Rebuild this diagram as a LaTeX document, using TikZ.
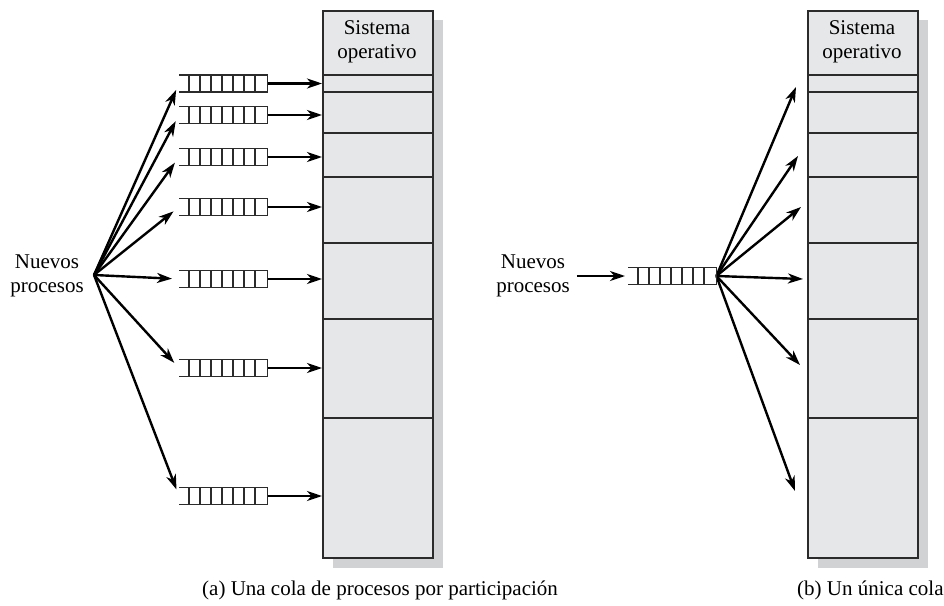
\documentclass[tikz,border=0pt]{standalone}
\usepackage{fontspec}
\setmainfont{Liberation Serif}
\usetikzlibrary{arrows.meta,calc}
\definecolor{memfill}{HTML}{E6E7E8}
\definecolor{memshadow}{HTML}{D1D2D4}
\definecolor{edge}{HTML}{2B2B2B}
\begin{document}
\begin{tikzpicture}[x=1pt,y=-1pt,
  lbl/.style={font=\fontsize{21}{24.5}\selectfont, align=center, inner sep=0pt},
  mem/.style={draw=edge, line width=1.5pt, fill=memfill, minimum width=110pt,
    minimum height=547pt, inner sep=0pt, anchor=north west},
  queue/.style={minimum width=88pt, minimum height=16.5pt, inner sep=0pt, anchor=west},
  qline/.style={draw=edge, line width=1.3pt},
  arr/.style={line width=2.4pt, -{Stealth[length=15pt,width=10pt,inset=4.5pt]}},
]
\useasboundingbox (0,0) rectangle (944,605);

% ---------- (a) one queue per partition ----------
\fill[memshadow] (333,20) rectangle (443,568);
\node[mem] (memA) at (322,10) {};
\foreach \y in {75,92,133,177,243,319,418}
  \draw[qline] (322,\y) -- (432,\y);
\node[lbl] (osA) at (377,42) {Sistema\\operativo};

\node[lbl] (newA) at (47,276) {Nuevos\\procesos};
\coordinate (fanA) at (94,275);

\foreach \n/\y in {1/83.5,2/115,3/157,4/207,5/279,6/368,7/496}{
  \node[queue] (qA\n) at (179,\y) {};
  \draw[arr] (qA\n.east) -- (qA\n.east -| memA.west);
  \draw[arr, shorten >=7pt] (fanA) -- (qA\n.west);
}

% ---------- (b) a single queue ----------
\fill[memshadow] (818,20) rectangle (928,568);
\node[mem] (memB) at (807,10) {};
\foreach \y in {75,92,133,177,243,319,418}
  \draw[qline] (807,\y) -- (917,\y);
\node[lbl] (osB) at (862,42) {Sistema\\operativo};

\node[lbl] (newB) at (533,276) {Nuevos\\procesos};
\node[queue] (qB) at (628,276) {};
\draw[arr, shorten <=7pt, shorten >=3pt] (newB.east |- qB.west) -- (qB.west);

\foreach \n/\x/\y in {1/796/87,3/798/156,4/801/207,5/803/279,6/800/365,7/795/491}{
  \coordinate (tB\n) at (\x,\y);
  \draw[arr] (qB.east) -- (tB\n);
}

% queue cells: open left end, seven closed slots on the right
\foreach \q in {qA1,qA2,qA3,qA4,qA5,qA6,qA7,qB}{
  \draw[qline] (\q.north west) -- (\q.north east) -- (\q.south east) -- (\q.south west);
  \foreach \i [evaluate=\i as \dx using 10+11*(\i-1)] in {1,...,7}
    \draw[qline] ([xshift=\dx pt]\q.north west) -- ([xshift=\dx pt]\q.south west);
}

% ---------- captions ----------
\node[lbl, anchor=base west] (capA) at (202,595) {(a) Una cola de procesos por participación};
\node[lbl, anchor=base west] (capB) at (797,595) {(b) Un única cola};
\end{tikzpicture}
\end{document}
